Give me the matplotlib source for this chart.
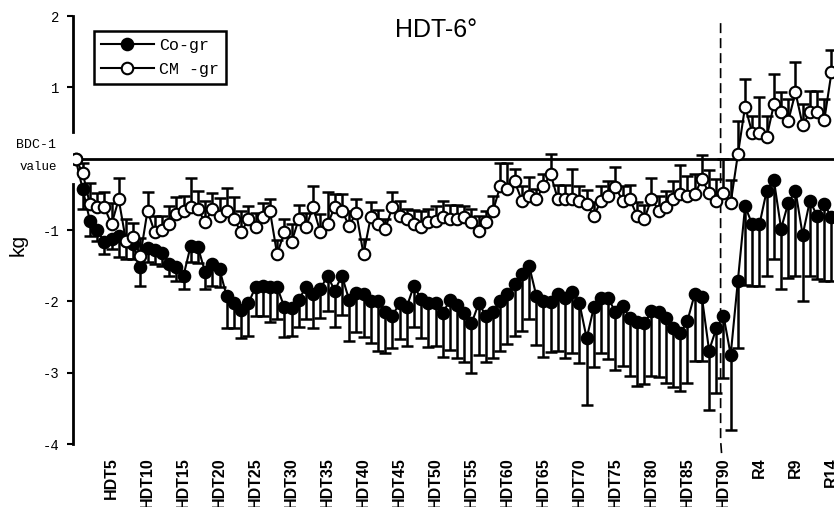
import numpy as np
import matplotlib
matplotlib.use("Agg")
import matplotlib.pyplot as plt
from matplotlib.lines import Line2D

# day index: 0..90 = HDT0..HDT90, 91..105 = R0..R14
co_gr = [0.0, -0.43, -0.87, -1.00, -1.17, -1.12, -1.08, -1.15, -1.20, -1.52,
         -1.25, -1.28, -1.32, -1.47, -1.52, -1.64, -1.22, -1.24, -1.59, -1.48,
         -1.55, -1.93, -2.03, -2.12, -2.03, -1.80, -1.78, -1.80, -1.80, -2.08,
         -2.10, -1.98, -1.80, -1.90, -1.83, -1.64, -1.85, -1.64, -1.98, -1.88,
         -1.90, -2.00, -1.99, -2.15, -2.20, -2.03, -2.08, -1.78, -1.97, -2.03,
         -2.03, -2.17, -1.98, -2.05, -2.17, -2.31, -2.03, -2.20, -2.15, -2.00,
         -1.90, -1.76, -1.62, -1.50, -1.92, -1.99, -2.01, -1.90, -1.96, -1.87,
         -2.03, -2.52, -2.08, -1.96, -1.96, -2.15, -2.06, -2.24, -2.29, -2.31,
         -2.14, -2.15, -2.24, -2.38, -2.45, -2.27, -1.90, -1.94, -2.69, -2.38,
         -2.20, -2.75, -1.71, -0.67, -0.92, -0.92, -0.45, -0.30, -0.98, -0.62,
         -0.45, -1.07, -0.59, -0.80, -0.64, -0.82]
co_err = [0.0, 0.28, 0.21, 0.16, 0.17, 0.15, 0.30, 0.25, 0.20, 0.26,
          0.20, 0.20, 0.18, 0.17, 0.20, 0.19, 0.23, 0.22, 0.24, 0.30,
          0.25, 0.45, 0.35, 0.40, 0.45, 0.40, 0.42, 0.49, 0.45, 0.42,
          0.38, 0.38, 0.45, 0.48, 0.41, 0.50, 0.51, 0.55, 0.57, 0.55,
          0.60, 0.59, 0.70, 0.58, 0.45, 0.50, 0.55, 0.58, 0.55, 0.61,
          0.60, 0.61, 0.70, 0.75, 0.68, 0.70, 0.72, 0.65, 0.65, 0.69,
          0.70, 0.72, 0.80, 0.75, 0.69, 0.79, 0.70, 0.80, 0.84, 0.85,
          0.84, 0.94, 0.84, 0.77, 0.85, 0.81, 0.85, 0.80, 0.89, 0.85,
          0.90, 0.91, 0.90, 0.82, 0.80, 0.88, 0.93, 0.89, 0.84, 0.90,
          0.87, 1.06, 0.94, 1.10, 0.86, 0.86, 1.20, 1.11, 0.85, 1.05,
          1.20, 0.93, 1.05, 0.88, 1.07, 0.90]

cm_gr = [0.0, -0.20, -0.64, -0.68, -0.68, -0.92, -0.57, -1.15, -1.10, -1.36,
         -0.73, -1.03, -1.00, -0.92, -0.78, -0.73, -0.68, -0.71, -0.89, -0.71,
         -0.80, -0.73, -0.85, -1.03, -0.85, -0.96, -0.82, -0.73, -1.34, -1.03,
         -1.17, -0.85, -0.96, -0.68, -1.03, -0.92, -0.68, -0.73, -0.94, -0.76,
         -1.34, -0.82, -0.92, -0.99, -0.68, -0.80, -0.85, -0.92, -0.96, -0.89,
         -0.87, -0.82, -0.85, -0.85, -0.82, -0.89, -1.01, -0.89, -0.73, -0.38,
         -0.42, -0.32, -0.59, -0.52, -0.57, -0.38, -0.22, -0.57, -0.57, -0.57,
         -0.59, -0.64, -0.80, -0.59, -0.52, -0.40, -0.59, -0.57, -0.80, -0.85,
         -0.56, -0.73, -0.68, -0.57, -0.50, -0.52, -0.50, -0.29, -0.48, -0.59,
         -0.48, -0.62, 0.06, 0.73, 0.36, 0.36, 0.30, 0.76, 0.65, 0.53,
         0.93, 0.47, 0.65, 0.65, 0.54, 1.21]
cm_err = [0.0, 0.14, 0.30, 0.20, 0.21, 0.30, 0.30, 0.30, 0.20, 0.25,
          0.26, 0.22, 0.20, 0.25, 0.24, 0.20, 0.41, 0.26, 0.30, 0.23,
          0.25, 0.32, 0.31, 0.30, 0.19, 0.20, 0.20, 0.16, 0.20, 0.18,
          0.25, 0.20, 0.20, 0.29, 0.25, 0.45, 0.18, 0.23, 0.20, 0.19,
          0.21, 0.21, 0.20, 0.15, 0.21, 0.20, 0.15, 0.20, 0.22, 0.18,
          0.20, 0.22, 0.20, 0.20, 0.16, 0.18, 0.20, 0.15, 0.20, 0.32,
          0.36, 0.18, 0.20, 0.26, 0.15, 0.16, 0.28, 0.20, 0.20, 0.42,
          0.20, 0.20, 0.19, 0.20, 0.20, 0.28, 0.20, 0.20, 0.19, 0.20,
          0.29, 0.20, 0.22, 0.25, 0.41, 0.28, 0.28, 0.34, 0.32, 0.30,
          0.48, 0.32, 0.47, 0.38, 0.24, 0.50, 0.30, 0.42, 0.28, 0.30,
          0.42, 0.30, 0.30, 0.30, 0.30, 0.31]

tick_pos = [5, 10, 15, 20, 25, 30, 35, 40, 45, 50, 55, 60, 65, 70, 75, 80, 85, 90, 95, 100, 105]
tick_labels = ['HDT5', 'HDT10', 'HDT15', 'HDT20', 'HDT25', 'HDT30', 'HDT35', 'HDT40',
               'HDT45', 'HDT50', 'HDT55', 'HDT60', 'HDT65', 'HDT70', 'HDT75', 'HDT80',
               'HDT85', 'HDT90', 'R4', 'R9', 'R14']
end_of_hdt = 89.6

MONO = 'Liberation Mono'
SANS = 'Liberation Sans'

days = np.arange(len(co_gr))
zeros = np.zeros(len(days))

fig = plt.figure(figsize=(8.34, 5.07), dpi=100)
ax = fig.add_axes([73 / 834, 63 / 507, 761 / 834, 428 / 507])

style = dict(color='black', lw=1.5, marker='o', ms=8.3, mew=1.5, mec='black')
bar_style = dict(fmt='none', ecolor='black', elinewidth=1.8, capsize=4.5, capthick=1.8)

ax.errorbar(days, co_gr, yerr=[co_err, zeros], zorder=2, **bar_style)
ax.plot(days, co_gr, mfc='black', zorder=3, **style)
ax.errorbar(days, cm_gr, yerr=[zeros, cm_err], zorder=4, **bar_style)
ax.plot(days, cm_gr, mfc='white', zorder=5, **style)

ax.axhline(0, color='black', lw=2, zorder=1)
ax.plot([end_of_hdt, end_of_hdt, end_of_hdt + 0.15], [1.9, -3.95, -4.15],
        color='black', lw=1.2, dashes=(6, 3), clip_on=False, zorder=1)

ax.set_xlim(-0.35, 105.35)
ax.set_ylim(-4, 2)

for s in ['top', 'right', 'bottom', 'left']:
    ax.spines[s].set_visible(False)
ytr = ax.get_yaxis_transform()
ax.plot([0, 0], [2, 0.37], color='black', lw=2, transform=ytr, clip_on=False)
ax.plot([0, 0], [-0.36, -4], color='black', lw=2, transform=ytr, clip_on=False)

ax.set_yticks([2, 1, -1, -2, -3, -4])
ax.set_yticklabels(['2', '1', '-1', '-2', '-3', '-4'], family=MONO, fontsize=10)
ax.tick_params(axis='y', length=4, width=1.5, pad=6)
ax.set_xticks(tick_pos)
ax.set_xticklabels(tick_labels, rotation=90, family=SANS, fontsize=11.5,
                   fontweight='bold', va='top')
ax.tick_params(axis='x', length=0, pad=9.5)

fig.text(36 / 834, 1 - 145 / 507, 'BDC-1', ha='center', va='center', family=MONO, fontsize=9.5)
fig.text(38 / 834, 1 - 167 / 507, 'value', ha='center', va='center', family=MONO, fontsize=9)
fig.text(18 / 834, 1 - 245 / 507, 'kg', rotation=90, ha='center', va='center',
         family=SANS, fontsize=15)
fig.text(436 / 834, 1 - 30 / 507, 'HDT-6°', ha='center', va='center', family=SANS, fontsize=18)

handles = [Line2D([], [], mfc='black', **style), Line2D([], [], mfc='white', **style)]
leg = ax.legend(handles, ['Co-gr', 'CM -gr'], loc='upper left',
                bbox_to_anchor=(94 / 834, 1 - 31 / 507), bbox_transform=fig.transFigure,
                borderaxespad=0, prop={'family': MONO, 'size': 12}, fancybox=False,
                framealpha=1, edgecolor='black', borderpad=0.4, labelspacing=0.55,
                handlelength=3.2, handletextpad=0.3)
leg.get_frame().set_linewidth(1.8)

fig.savefig('out.png', dpi=100)
